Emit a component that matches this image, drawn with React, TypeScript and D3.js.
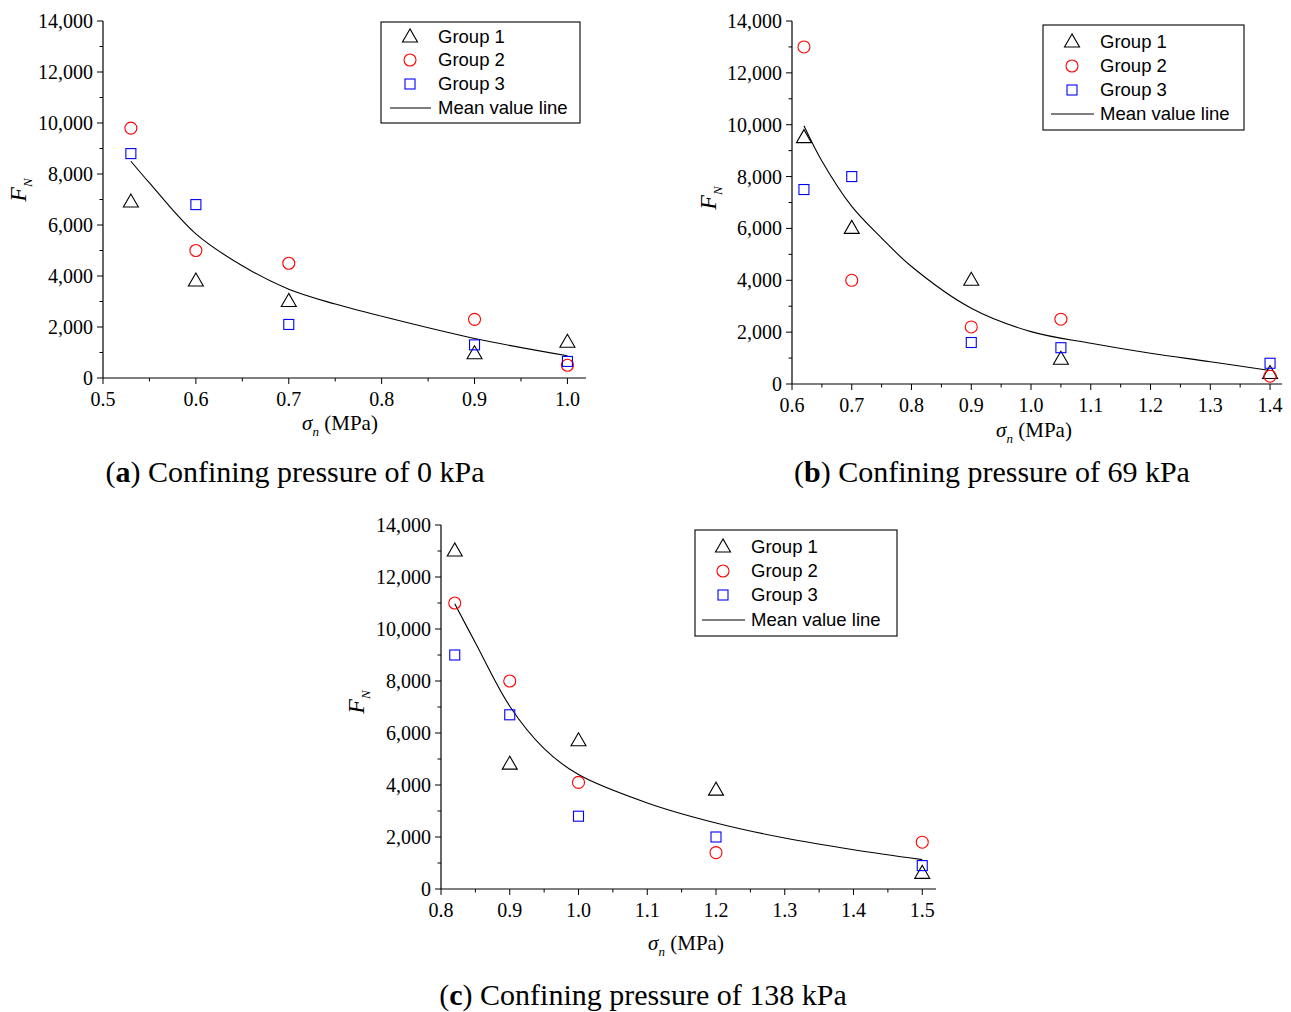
import React from "react";
import * as d3 from "d3";

// ---------- Data ----------
const seriesNames = ["Group 1", "Group 2", "Group 3"];
const meanLabel = "Mean value line";

// Panel (a) – confining pressure 0 kPa
const aX = [0.53, 0.6, 0.7, 0.9, 1.0];
const aGroup1 = [6900, 3800, 3000, 950, 1400];
const aGroup2 = [9800, 5000, 4500, 2300, 500];
const aGroup3 = [8800, 6800, 2100, 1300, 650];
const aMeanX = [0.53, 0.55, 0.6, 0.65, 0.7, 0.75, 0.8, 0.9, 1.0];
const aMeanY = [8500, 7650, 5650, 4400, 3480, 2900, 2420, 1550, 870];
const aXTicks = [0.5, 0.6, 0.7, 0.8, 0.9, 1.0];

// Panel (b) – confining pressure 69 kPa
const bX = [0.62, 0.7, 0.9, 1.05, 1.4];
const bGroup1 = [9500, 6000, 4000, 950, 400];
const bGroup2 = [13000, 4000, 2200, 2500, 300];
const bGroup3 = [7500, 8000, 1600, 1400, 800];
const bMeanX = [0.62, 0.65, 0.7, 0.75, 0.8, 0.9, 1.0, 1.1, 1.2, 1.3, 1.4];
const bMeanY = [9960, 8600, 6850, 5630, 4530, 2920, 2020, 1570, 1185, 860, 520];
const bXTicks = [0.6, 0.7, 0.8, 0.9, 1.0, 1.1, 1.2, 1.3, 1.4];

// Panel (c) – confining pressure 138 kPa
const cX = [0.82, 0.9, 1.0, 1.2, 1.5];
const cGroup1 = [13000, 4800, 5700, 3800, 600];
const cGroup2 = [11000, 8000, 4100, 1400, 1800];
const cGroup3 = [9000, 6700, 2800, 2000, 900];
const cMeanX = [0.82, 0.85, 0.9, 0.95, 1.0, 1.1, 1.2, 1.3, 1.4, 1.5];
const cMeanY = [10970, 9470, 7030, 5400, 4400, 3310, 2540, 1960, 1510, 1130];
const cXTicks = [0.8, 0.9, 1.0, 1.1, 1.2, 1.3, 1.4, 1.5];

const yTicks = [0, 2000, 4000, 6000, 8000, 10000, 12000, 14000];

const captionLetters = ["a", "b", "c"];
const captionTexts = [
  " Confining pressure of 0 kPa",
  " Confining pressure of 69 kPa",
  " Confining pressure of 138 kPa",
];

// ---------- Layout ----------
type PanelCfg = {
  xs: number[];
  g: number[][];
  meanX: number[];
  meanY: number[];
  xTicks: number[];
  xDomain: [number, number];
  xRange: [number, number];
  yRange: [number, number];
  minorStep: number;
  legend: { x: number; y: number; w: number; h: number; symX: number; textX: number; rows: number[]; lineX1: number; lineX2: number };
  xTitle: { x: number; y: number };
  yTitle: { x: number; y: number };
  caption: { x: number; y: number };
  letter: string;
  caption_text: string;
};

const panels: PanelCfg[] = [
  {
    xs: aX, g: [aGroup1, aGroup2, aGroup3], meanX: aMeanX, meanY: aMeanY, xTicks: aXTicks,
    xDomain: [0.5, 1.02], xRange: [103, 586], yRange: [378, 21], minorStep: 0.05,
    legend: { x: 381, y: 22, w: 199, h: 101, symX: 410, textX: 438, rows: [37, 60, 84, 108], lineX1: 390, lineX2: 431 },
    xTitle: { x: 340, y: 430 }, yTitle: { x: 26, y: 190 }, caption: { x: 295, y: 482 },
    letter: captionLetters[0], caption_text: captionTexts[0],
  },
  {
    xs: bX, g: [bGroup1, bGroup2, bGroup3], meanX: bMeanX, meanY: bMeanY, xTicks: bXTicks,
    xDomain: [0.6, 1.42], xRange: [792, 1282], yRange: [384, 21], minorStep: 0.05,
    legend: { x: 1043, y: 25, w: 201, h: 105, symX: 1072, textX: 1100, rows: [42, 66, 90, 114], lineX1: 1051, lineX2: 1094 },
    xTitle: { x: 1034, y: 437 }, yTitle: { x: 716, y: 198 }, caption: { x: 992, y: 482 },
    letter: captionLetters[1], caption_text: captionTexts[1],
  },
  {
    xs: cX, g: [cGroup1, cGroup2, cGroup3], meanX: cMeanX, meanY: cMeanY, xTicks: cXTicks,
    xDomain: [0.8, 1.52], xRange: [441, 936], yRange: [889, 525], minorStep: 0.05,
    legend: { x: 695, y: 530, w: 202, h: 106, symX: 723, textX: 751, rows: [547, 571, 595, 620], lineX1: 702, lineX2: 745 },
    xTitle: { x: 686, y: 950 }, yTitle: { x: 364, y: 702 }, caption: { x: 643, y: 1005 },
    letter: captionLetters[2], caption_text: captionTexts[2],
  },
];

const colors = ["#000000", "#ff0000", "#0000ff"];
const serif = "'Liberation Serif', 'Times New Roman', serif";
const sans = "'Liberation Sans', Arial, sans-serif";

function Marker({ kind, x, y }: { kind: number; x: number; y: number }) {
  const c = colors[kind];
  if (kind === 0) {
    const s = 7.5;
    const h = s * 1.73;
    const pts = `${x},${y - h * 0.62} ${x - s},${y + h * 0.38} ${x + s},${y + h * 0.38}`;
    return <polygon points={pts} fill="none" stroke={c} strokeWidth={1.1} />;
  }
  if (kind === 1) return <circle cx={x} cy={y} r={6} fill="none" stroke={c} strokeWidth={1.1} />;
  return <rect x={x - 5} y={y - 5} width={10} height={10} fill="none" stroke={c} strokeWidth={1.1} />;
}

function Panel({ p }: { p: PanelCfg }) {
  const x = d3.scaleLinear().domain(p.xDomain).range(p.xRange);
  const y = d3.scaleLinear().domain([0, 14000]).range(p.yRange);
  const fy = d3.format(",");
  const fx = d3.format(".1f");
  const yMinor = d3.range(0, 14001, 1000);
  const xMinor: number[] = [];
  for (let v = p.xTicks[0]; v <= p.xDomain[1] + 1e-9; v += p.minorStep) xMinor.push(+v.toFixed(3));
  const line = d3
    .line<number>()
    .x((_, i) => x(p.meanX[i]))
    .y((d) => y(d))
    .curve(d3.curveCatmullRom.alpha(0.5));
  const x0 = p.xRange[0];
  const y0 = p.yRange[0];
  const L = p.legend;
  return (
    <g>
      {/* axes */}
      <line x1={x0} x2={x0} y1={p.yRange[1]} y2={y0} stroke="#000" strokeWidth={1.2} />
      <line x1={x0} x2={p.xRange[1]} y1={y0} y2={y0} stroke="#000" strokeWidth={1.2} />
      {yMinor.map((v) => (
        <line key={"ym" + v} x1={x0} x2={x0 - (v % 2000 === 0 ? 6 : 3.5)} y1={y(v)} y2={y(v)} stroke="#000" strokeWidth={1} />
      ))}
      {xMinor.map((v, i) => (
        <line key={"xm" + i} x1={x(v)} x2={x(v)} y1={y0} y2={y0 + (i % 2 === 0 ? 6 : 3.5)} stroke="#000" strokeWidth={1} />
      ))}
      {yTicks.map((v) => (
        <text key={"yt" + v} x={x0 - 10} y={y(v)} dy="0.35em" textAnchor="end" fontFamily={serif} fontSize={20}>
          {fy(v)}
        </text>
      ))}
      {p.xTicks.map((v) => (
        <text key={"xt" + v} x={x(v)} y={y0 + 28} textAnchor="middle" fontFamily={serif} fontSize={20}>
          {fx(v)}
        </text>
      ))}
      {/* titles */}
      <text x={p.xTitle.x} y={p.xTitle.y} textAnchor="middle" fontFamily={serif} fontSize={21}>
        <tspan fontStyle="italic">σ</tspan>
        <tspan fontStyle="italic" fontSize={13} dy={6}>n</tspan>
        <tspan dy={-6}> (MPa)</tspan>
      </text>
      <text transform={`translate(${p.yTitle.x},${p.yTitle.y}) rotate(-90)`} textAnchor="middle" fontFamily={serif} fontSize={24}>
        <tspan fontStyle="italic">F</tspan>
        <tspan fontStyle="italic" fontSize={13} dy={6}>N</tspan>
      </text>
      {/* mean line */}
      <path d={line(p.meanY) || ""} fill="none" stroke="#000" strokeWidth={1.1} />
      {/* markers */}
      {p.g.map((vals, k) =>
        vals.map((v, i) => <Marker key={`m${k}-${i}`} kind={k} x={x(p.xs[i])} y={y(v)} />)
      )}
      {/* legend */}
      <rect x={L.x} y={L.y} width={L.w} height={L.h} fill="#fff" stroke="#000" strokeWidth={1.1} />
      {seriesNames.map((n, k) => (
        <g key={"lg" + k}>
          <Marker kind={k} x={L.symX} y={L.rows[k]} />
          <text x={L.textX} y={L.rows[k]} dy="0.35em" fontFamily={sans} fontSize={18.5}>
            {n}
          </text>
        </g>
      ))}
      <line x1={L.lineX1} x2={L.lineX2} y1={L.rows[3]} y2={L.rows[3]} stroke="#000" strokeWidth={1.1} />
      <text x={L.textX} y={L.rows[3]} dy="0.35em" fontFamily={sans} fontSize={18.5}>
        {meanLabel}
      </text>
      {/* caption */}
      <text x={p.caption.x} y={p.caption.y} textAnchor="middle" fontFamily={serif} fontSize={30}>
        (<tspan fontWeight="bold">{p.letter}</tspan>){p.caption_text}
      </text>
    </g>
  );
}

export default function App() {
  return (
    <svg width={1291} height={1012} style={{ position: "absolute", left: 0, top: 0, background: "#fff" }}>
      <rect width={1291} height={1012} fill="#fff" />
      {panels.map((p, i) => (
        <Panel key={i} p={p} />
      ))}
    </svg>
  );
}
